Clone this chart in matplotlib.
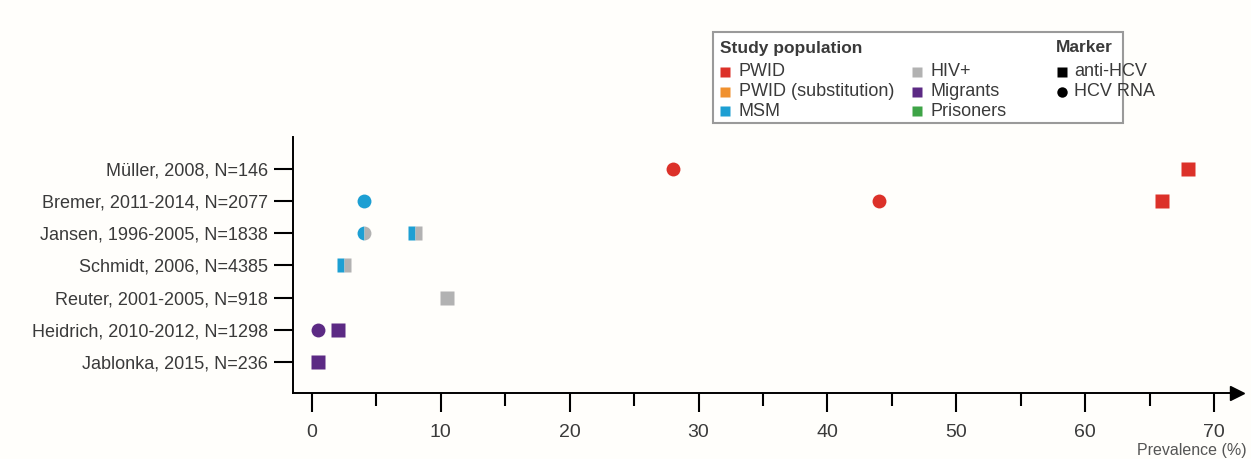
import matplotlib
matplotlib.use('Agg')
import matplotlib.pyplot as plt
from matplotlib.patches import Rectangle

plt.rcParams['font.family'] = ['Liberation Sans', 'DejaVu Sans']

# studies, bottom to top
studies = ['Jablonka, 2015, N=236', 'Heidrich, 2010-2012, N=1298',
           'Reuter, 2001-2005, N=918', 'Schmidt, 2006, N=4385',
           'Jansen, 1996-2005, N=1838', 'Bremer, 2011-2014, N=2077',
           'Müller, 2008, N=146']

# one entry per estimate
pt_study = ['Müller, 2008, N=146', 'Müller, 2008, N=146',
            'Bremer, 2011-2014, N=2077', 'Bremer, 2011-2014, N=2077', 'Bremer, 2011-2014, N=2077',
            'Jansen, 1996-2005, N=1838', 'Jansen, 1996-2005, N=1838',
            'Schmidt, 2006, N=4385',
            'Reuter, 2001-2005, N=918',
            'Heidrich, 2010-2012, N=1298', 'Heidrich, 2010-2012, N=1298',
            'Jablonka, 2015, N=236']
pt_value = [28, 68, 4, 44, 66, 4, 8, 2.5, 10.5, 0.5, 2, 0.5]
pt_marker = ['HCV RNA', 'anti-HCV', 'HCV RNA', 'HCV RNA', 'anti-HCV',
             'HCV RNA', 'anti-HCV', 'anti-HCV', 'anti-HCV',
             'HCV RNA', 'anti-HCV', 'anti-HCV']
pt_group = ['PWID', 'PWID', 'MSM', 'PWID', 'PWID', 'MSM', 'MSM', 'MSM',
            'HIV+', 'Migrants', 'Migrants', 'Migrants']
# second population for split markers (MSM with HIV)
pt_group_alt = [None, None, None, None, None, 'HIV+', 'HIV+', 'HIV+',
                None, None, None, None]

groups = ['PWID', 'PWID (substitution)', 'MSM', 'HIV+', 'Migrants', 'Prisoners']
group_colors = ['#dc3129', '#f0912f', '#1d9fd3', '#b2b2b2', '#5c2a84', '#3ea447']
markers = ['anti-HCV', 'HCV RNA']
marker_shapes = ['s', 'o']

x_ticks = [0, 10, 20, 30, 40, 50, 60, 70]

color_of = dict(zip(groups, group_colors))
shape_of = dict(zip(markers, marker_shapes))
text_col = '#3a3a3a'
bg = '#fffefb'

W, H = 1251, 459
fig = plt.figure(figsize=(W / 100, H / 100), dpi=100, facecolor=bg)

# axes placed in pixel units
ax_l, ax_r, ax_t, ax_b = 293, 1237, 137, 393
ax = fig.add_axes([ax_l / W, 1 - ax_b / H, (ax_r - ax_l) / W, (ax_b - ax_t) / H])
ax.set_facecolor(bg)

px_per_unit = (1214 - 312) / 70
ax.set_xlim(-(312 - ax_l) / px_per_unit, (ax_r - 312) / px_per_unit)
ax.set_ylim(-0.96, len(studies) - 1 + 0.99)

for s, v, m, g, g2 in zip(pt_study, pt_value, pt_marker, pt_group, pt_group_alt):
    y = studies.index(s)
    if g2 is None:
        ax.plot(v, y, marker=shape_of[m], ms=10, color=color_of[g],
                mec='none', ls='none', zorder=3)
    else:
        ax.plot(v, y, marker=shape_of[m], ms=10, fillstyle='left',
                mfc=color_of[g], mfcalt=color_of[g2], mec='none',
                ls='none', zorder=3)

ax.set_yticks(range(len(studies)))
ax.set_yticklabels(studies, fontsize=13, color=text_col)
ax.set_xticks(x_ticks)
ax.set_xticks([t + 5 for t in x_ticks[:-1]], minor=True)
ax.set_xticklabels([str(t) for t in x_ticks], fontsize=14, color=text_col)

ax.tick_params(axis='y', length=14, width=1.5, pad=4, direction='out')
ax.tick_params(axis='x', which='major', length=14, width=1.5, pad=8, direction='out')
ax.tick_params(axis='x', which='minor', length=9, width=1.5, direction='out')

for side in ['top', 'right']:
    ax.spines[side].set_visible(False)
for side in ['left', 'bottom']:
    ax.spines[side].set_linewidth(1.4)

# arrow head on the x axis
ax.plot(1, 0, marker='>', ms=10, color='black', transform=ax.transAxes,
        clip_on=False, zorder=4)

fig.text(1192 / W, 1 - 451 / H, 'Prevalence (%)', fontsize=11.5,
         color='#555555', ha='center', va='center')

# legend box drawn in a pixel-coordinate overlay
lg = fig.add_axes([0, 0, 1, 1])
lg.set_xlim(0, W)
lg.set_ylim(H, 0)
lg.axis('off')
lg.add_patch(Rectangle((713, 32), 410, 91, facecolor='white',
                       edgecolor='#9a9a9a', linewidth=1.5))

lg.text(720, 48, 'Study population', fontsize=12.5, fontweight='bold',
        color=text_col, va='center')
lg.text(1056, 48, 'Marker', fontsize=12.5, fontweight='bold',
        color=text_col, va='center')

row_y = [72, 92, 111]
col_x = [725, 917]
for i, (g, c) in enumerate(zip(groups, group_colors)):
    x0 = col_x[i // 3]
    y0 = row_y[i % 3]
    lg.plot(x0, y0, marker='s', ms=7.5, color=c, mec='none')
    lg.text(x0 + 14, y0, g, fontsize=13, color=text_col, va='center')

for i, (m, sh) in enumerate(zip(markers, marker_shapes)):
    y0 = row_y[i]
    lg.plot(1062, y0, marker=sh, ms=7.5, color='black', mec='none')
    lg.text(1074, y0, m, fontsize=13, color=text_col, va='center')

fig.savefig('out.png', dpi=100, facecolor=bg)
